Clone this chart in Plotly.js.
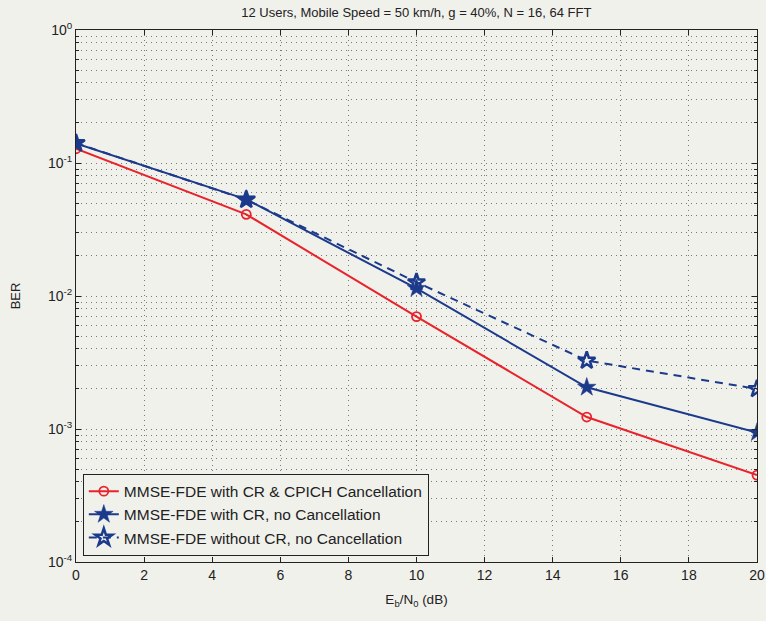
<!DOCTYPE html>
<html>
<head>
<meta charset="utf-8">
<script src="https://cdn.plot.ly/plotly-3.0.1.min.js"></script>
<style>html,body{margin:0;padding:0;background:#f1f1ec;}</style>
</head>
<body>
<div id="chart" style="width:766px;height:621px;"></div>
<script>
const ebn0 = [0, 5, 10, 15, 20];
const berCRCpich = [0.128, 0.0411, 0.0070, 0.00123, 0.00045];
const berCRNoCanc = [0.140, 0.0533, 0.0114, 0.00206, 0.00094];
const berNoCRNoCanc = [0.141, 0.0530, 0.0127, 0.00327, 0.00200];
const seriesNames = [
  'MMSE-FDE with CR &amp; CPICH Cancellation',
  'MMSE-FDE with CR, no Cancellation',
  'MMSE-FDE without CR, no Cancellation'
];
const yTickVals = [1, 0.1, 0.01, 0.001, 0.0001];
const yTickText = ['10<sup>0</sup>', '10<sup>-1</sup>', '10<sup>-2</sup>', '10<sup>-3</sup>', '10<sup>-4</sup>'];
const xTickVals = [0, 2, 4, 6, 8, 10, 12, 14, 16, 18, 20];

const red = '#e8232b';
const blue = '#1c3a8c';
const bg = '#f1f1ec';
const gridCol = '#7a7a7a';
const gridDash = '1px,4px';

const traces = [
  {x: ebn0, y: berCRCpich, name: seriesNames[0], mode: 'lines+markers',
   line: {color: red, width: 2},
   marker: {symbol: 'circle-open', size: 9, color: red, line: {width: 1.8, color: red}}},
  {x: ebn0, y: berCRNoCanc, name: seriesNames[1], mode: 'lines+markers',
   line: {color: blue, width: 2},
   marker: {symbol: 'star', size: 14, color: blue, line: {width: 0.5, color: blue}}},
  {x: ebn0, y: berNoCRNoCanc, name: seriesNames[2], mode: 'lines+markers',
   line: {color: blue, width: 2, dash: '8px,6px'},
   marker: {symbol: 'star-open', size: 13, color: blue, line: {width: 2.5, color: blue}}}
];

const font = {family: 'Liberation Sans, Arial, Helvetica, sans-serif', color: '#222', size: 13};
const layout = {
  width: 766, height: 621,
  paper_bgcolor: bg, plot_bgcolor: bg,
  margin: {l: 76, r: 9, t: 30, b: 59},
  font: font,
  showlegend: true,
  title: {text: '12 Users, Mobile Speed = 50 km/h, g = 40%, N = 16, 64 FFT',
          font: {size: 13, color: '#222', family: font.family},
          x: 0.5435, xanchor: 'center', y: 0.98, yanchor: 'middle'},
  xaxis: {
    range: [0, 20], tickvals: xTickVals, ticktext: xTickVals.map(String),
    showline: true, linecolor: '#222', linewidth: 1, mirror: 'allticks',
    ticks: 'inside', ticklen: 5, tickcolor: '#222',
    showgrid: true, gridcolor: gridCol, griddash: gridDash, gridwidth: 1,
    zeroline: false,
    tickfont: {size: 14},
    title: {text: 'E<sub>b</sub>/N<sub>0</sub> (dB)', font: {size: 13.5}, standoff: 12}
  },
  yaxis: {
    type: 'log', range: [-4, 0], tickvals: yTickVals, ticktext: yTickText,
    showline: true, linecolor: '#222', linewidth: 1, mirror: 'allticks',
    ticks: 'inside', ticklen: 5, tickcolor: '#222',
    showgrid: true, gridcolor: gridCol, griddash: gridDash, gridwidth: 1,
    zeroline: false,
    tickfont: {size: 14},
    minor: {dtick: 'D1', ticks: 'inside', ticklen: 3, tickcolor: '#222', showgrid: true, gridcolor: gridCol, griddash: gridDash, gridwidth: 1},
    title: {text: 'BER', font: {size: 13}, standoff: 24}
  },
  legend: {
    x: 0.01, y: 0.012, xanchor: 'left', yanchor: 'bottom',
    bgcolor: bg, bordercolor: '#222', borderwidth: 1,
    font: {size: 15.5, color: '#222'},
    tracegroupgap: 0, itemwidth: 30
  }
};

Plotly.newPlot('chart', traces, layout, {displayModeBar: false, staticPlot: true});
</script>
</body>
</html>
